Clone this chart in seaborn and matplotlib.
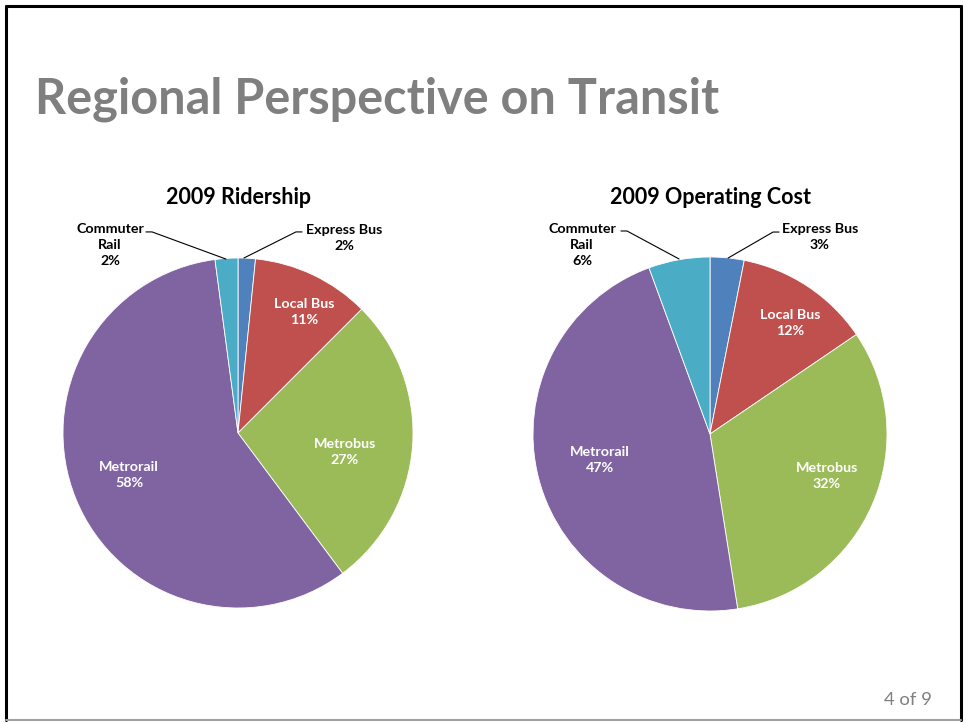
import matplotlib
matplotlib.use("Agg")
import matplotlib.pyplot as plt
import seaborn as sns
from matplotlib.lines import Line2D

sns.set_theme(style="white")
plt.rcParams['font.family'] = ['Lato', 'DejaVu Sans']

# ---- data ----
categories = ["Express Bus", "Local Bus", "Metrobus", "Metrorail", "Commuter\nRail"]
ridership = [1.6, 10.9, 27.3, 58.1, 2.1]
op_cost = [3.1, 12.4, 32.0, 46.9, 5.6]
titles = ["2009 Ridership", "2009 Operating Cost"]
palette = sns.color_palette(["#4F81BD", "#C0504D", "#9BBB59", "#8064A2", "#4BACC6"])

W, H = 966, 723
fig = plt.figure(figsize=(W / 100, H / 100), dpi=100)
fig.patch.set_facecolor("white")

# slide border
fig.add_artist(Line2D([6 / W, 6 / W], [1 - 6 / H, 1 - 720 / H], color="black", lw=2.2, transform=fig.transFigure))
fig.add_artist(Line2D([6 / W, 961 / W], [1 - 6 / H, 1 - 6 / H], color="black", lw=2.2, transform=fig.transFigure))
fig.add_artist(Line2D([961 / W, 961 / W], [1 - 6 / H, 1 - 720 / H], color="black", lw=2.2, transform=fig.transFigure))
fig.add_artist(Line2D([6 / W, 961 / W], [1 - 720 / H, 1 - 720 / H], color="#A0A0A0", lw=1.5, transform=fig.transFigure))

fig.text(35 / W, 1 - 113 / H, "Regional Perspective on Transit", fontsize=35, fontweight="bold",
         color="#7F7F7F", ha="left", va="baseline")
fig.text(908 / W, 1 - 700 / H, "4 of 9", fontsize=13.3, color="#7F7F7F", ha="center", va="center")


def make_ax(cx, cy, r):
    ax = fig.add_axes([(cx - r) / W, 1 - (cy + r) / H, 2 * r / W, 2 * r / H])
    ax.set_xlim(-1, 1)
    ax.set_ylim(-1, 1)
    ax.set_aspect("equal")
    ax.axis("off")
    return ax


configs = [
    dict(values=ridership, cx=238, cy=433, r=175,
         inside={1: (0.377, 0.691), 2: (0.611, -0.109), 3: (-0.623, -0.24)},
         outside={4: ((-0.731, 1.074), [(-0.069, 0.994), (-0.491, 1.149), (-0.526, 1.149)]),
                  0: ((0.606, 1.117), [(0.034, 1.0), (0.331, 1.149), (0.366, 1.149)])}),
    dict(values=op_cost, cx=710, cy=434, r=177,
         inside={1: (0.452, 0.627), 2: (0.661, -0.237), 3: (-0.621, -0.147)},
         outside={4: ((-0.723, 1.068), [(-0.175, 0.989), (-0.469, 1.147), (-0.503, 1.147)]),
                  0: ((0.621, 1.113), [(0.102, 0.994), (0.356, 1.141), (0.390, 1.141)])}),
]

for title, cfg in zip(titles, configs):
    ax = make_ax(cfg["cx"], cfg["cy"], cfg["r"])
    ax.pie(cfg["values"], colors=palette, startangle=90, counterclock=False, radius=1,
           wedgeprops=dict(edgecolor="white", linewidth=0.6))
    ax.set_xlim(-1, 1)
    ax.set_ylim(-1, 1)
    fig.text(cfg["cx"] / W, 1 - 198 / H, title, fontsize=15.5, fontweight="bold",
             color="black", ha="center", va="center")
    for idx, (x, y) in cfg["inside"].items():
        ax.text(x, y, f"{categories[idx]}\n{round(cfg['values'][idx])}%", ha="center", va="center",
                fontsize=10.3, fontweight="bold", color="white", linespacing=1.4)
    for idx, ((x, y), pts) in cfg["outside"].items():
        ax.text(x, y, f"{categories[idx]}\n{round(cfg['values'][idx])}%", ha="center", va="center",
                fontsize=10.3, fontweight="bold", color="black", linespacing=1.4, clip_on=False)
        xs, ys = zip(*pts)
        ax.plot(xs, ys, color="black", lw=0.8, clip_on=False)

fig.savefig("out.png", dpi=100, facecolor="white")
